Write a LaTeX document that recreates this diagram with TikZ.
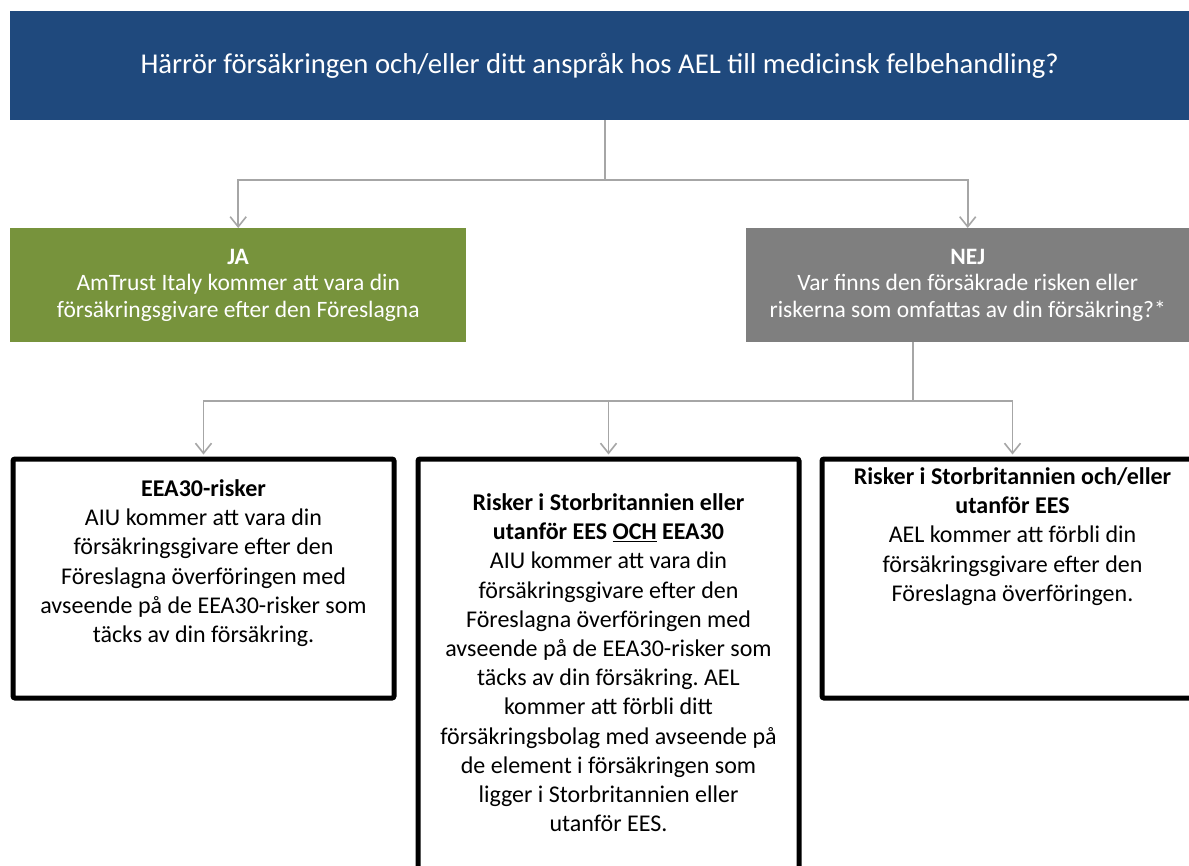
\documentclass[tikz,border=0pt]{standalone}
\usepackage{fontspec}
\setmainfont{Carlito}
\usetikzlibrary{arrows.meta,calc}
\definecolor{qblue}{HTML}{1F497D}
\definecolor{jagreen}{HTML}{77933C}
\definecolor{nejgray}{HTML}{7F7F7F}
\definecolor{conngray}{HTML}{A6A6A6}
\tikzset{
  qbox/.style={fill=qblue, text=white, inner sep=0pt, anchor=north west,
    font=\fontsize{28.7pt}{34pt}\selectfont},
  ansbox/.style={inner sep=0pt, anchor=north west, text=white, align=center,
    font=\fontsize{23.5pt}{26.5pt}\selectfont},
  resbox/.style={draw=black, line width=5pt, fill=white, rounded corners=2pt,
    inner sep=0pt, anchor=north west, minimum width=381pt},
  restext/.style={anchor=north, align=center, inner sep=0pt, text=black,
    font=\fontsize{24pt}{29.2pt}\selectfont},
  conn/.style={draw=conngray, line width=1.6pt},
  arr/.style={conn, -{Straight Barb[length=10pt,width=16pt,line width=1.6pt]}},
}
\frenchspacing
\begin{document}
\frenchspacing
\begin{tikzpicture}[x=1pt,y=-1pt]
\useasboundingbox (0,0) rectangle (1189,865);
\fill[white] (0,0) rectangle (1189,865);

\node[qbox, minimum width=1179pt, minimum height=109pt] (q) at (10,11)
  {Härrör försäkringen och/eller ditt anspråk hos AEL till medicinsk felbehandling?};

\node[ansbox, fill=jagreen, minimum width=456pt, minimum height=114pt] (ja) at (10,228)
  {\textbf{JA}\\AmTrust Italy kommer att vara din\\försäkringsgivare efter den Föreslagna};

\node[ansbox, fill=nejgray, minimum width=443pt, minimum height=114pt] (nej) at (746,228)
  {\textbf{NEJ}\\Var finns den försäkrade risken eller\\riskerna som omfattas av din försäkring?*};

\node[resbox, minimum height=239pt] (b1) at (10.5,456.5) {};
\node[resbox, minimum height=420pt] (b2) at (415.5,456.5) {};
\node[resbox, minimum height=239pt] (b3) at (819.5,456.5) {};

\node[restext] (b1t) at ($(b1.north)+(0,23)$)
  {\textbf{EEA30-risker}\\AIU kommer att vara din\\försäkringsgivare efter den\\Föreslagna överföringen med\\avseende på de EEA30-risker som\\täcks av din försäkring.};
\node[restext] (b2t) at ($(b2.north)+(0,37)$)
  {\textbf{Risker i Storbritannien eller}\\\textbf{utanför EES \underline{OCH} EEA30}\\AIU kommer att vara din\\försäkringsgivare efter den\\Föreslagna överföringen med\\avseende på de EEA30-risker som\\täcks av din försäkring. AEL\\kommer att förbli ditt\\försäkringsbolag med avseende på\\de element i försäkringen som\\ligger i Storbritannien eller\\utanför EES.};
\node[restext] (b3t) at ($(b3.north)+(0,11)$)
  {\textbf{Risker i Storbritannien och/eller}\\\textbf{utanför EES}\\AEL kommer att förbli din\\försäkringsgivare efter den\\Föreslagna överföringen.};

\coordinate (j1) at (605,180);
\draw[conn] (q.south -| j1) -- (j1);
\draw[arr] (j1) -| (ja.north);
\draw[arr] (j1) -| (nej.north);

\coordinate (j2) at (913,401);
\draw[conn] (nej.south -| j2) -- (j2);
\draw[arr, shorten >=2pt] (j2) -| (b1.north);
\draw[arr, shorten >=2pt] (j2) -| (b2.north);
\draw[arr, shorten >=2pt] (j2) -| (b3.north);
\end{tikzpicture}
\end{document}
